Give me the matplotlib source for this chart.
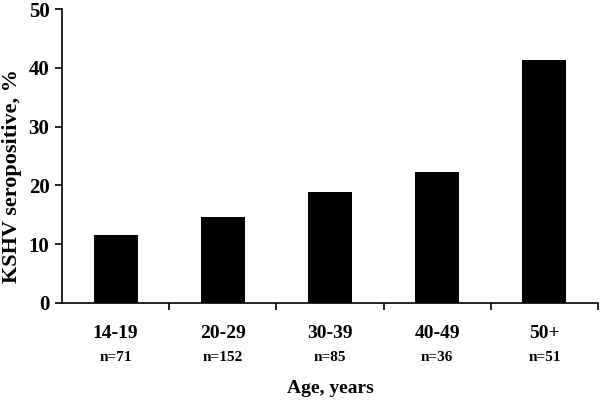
import numpy as np
import matplotlib.pyplot as plt

age_groups = ['14-19', '20-29', '30-39', '40-49', '50+']
n_counts = ['n=71', 'n=152', 'n=85', 'n=36', 'n=51']
seropositive = [11.5, 14.6, 18.9, 22.3, 41.3]

plt.rcParams['font.family'] = ['Liberation Serif', 'DejaVu Serif']
plt.rcParams['font.weight'] = 'bold'

fig = plt.figure(figsize=(6, 4), dpi=100)
ax = fig.add_axes([0.1033, 0.243, 0.8934, 0.734])

x = np.arange(len(age_groups))
ax.bar(x, seropositive, width=0.41, color='black')

ax.set_xlim(-0.5, 4.5)
ax.set_ylim(0, 50)
ax.set_yticks([0, 10, 20, 30, 40, 50])
ax.tick_params(axis='y', labelsize=15, length=5, width=1.2, pad=4)

ax.set_xticks(x)
ax.set_xticklabels(age_groups, fontsize=14, fontweight='bold')
ax.tick_params(axis='x', which='major', length=0, pad=16)
ax.set_xticks(x + 0.5, minor=True)
ax.tick_params(axis='x', which='minor', length=5, width=1.2, direction='out')

for xi, lab in zip(x, n_counts):
    ax.text(xi, -9.4, lab, ha='center', va='center', fontsize=11,
            fontweight='bold', clip_on=False)

for s in ['top', 'right']:
    ax.spines[s].set_visible(False)
ax.spines['left'].set_linewidth(1.2)
ax.spines['bottom'].set_linewidth(1.2)

# y label sits a bit below the middle of the axis in the original
fig.text(0.02, 0.56, 'KSHV seropositive, %', rotation=90, ha='center',
         va='center', fontsize=16, fontweight='bold')
fig.text(0.55, 0.028, 'Age, years', ha='center', va='center', fontsize=14,
         fontweight='bold')

fig.savefig('out.png', dpi=100)
